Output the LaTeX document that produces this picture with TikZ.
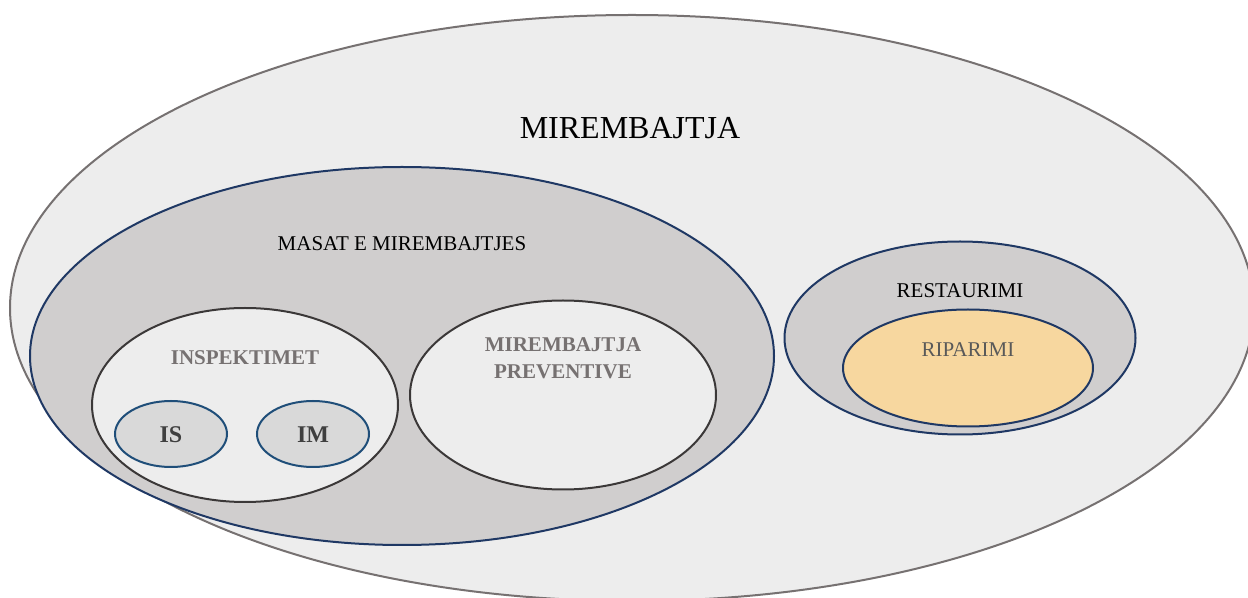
\documentclass[tikz,border=0pt]{standalone}
\usepackage{fontspec}
\setmainfont{Liberation Serif}
\usetikzlibrary{shapes.geometric}

\definecolor{outerfill}{HTML}{EDEDED}
\definecolor{outerline}{HTML}{767171}
\definecolor{midfill}{HTML}{D0CECE}
\definecolor{navy}{HTML}{1F3864}
\definecolor{steel}{HTML}{1F4E79}
\definecolor{darkline}{HTML}{3B3838}
\definecolor{lightfill}{HTML}{EDEDED}
\definecolor{smallfill}{HTML}{D9D9D9}
\definecolor{goldfill}{HTML}{F7D79F}
\definecolor{greytext}{HTML}{767171}
\definecolor{darktext}{HTML}{404040}
\definecolor{midtext}{HTML}{595959}

% one drawing unit = 0.5pt; ellipse sizes are given in the same units
\tikzset{
  blob/.style 2 args={ellipse, inner sep=0pt, line width=1pt,
    minimum width=#1*0.5pt, minimum height=#2*0.5pt},
  base/.style={font=\fontsize{10.5}{12.5}\selectfont, align=center, inner sep=0pt},
  boldgrey/.style={base, font=\fontsize{10.5}{13.5}\selectfont\bfseries, text=greytext},
  smalllabel/.style={base, font=\fontsize{12}{14}\selectfont\bfseries, text=darktext},
}

\begin{document}
\begin{tikzpicture}[x=0.5pt, y=-0.5pt]
  \useasboundingbox (0,0) rectangle (1248,598);
  \clip (0,0) rectangle (1248,598);

  % outer domain
  \node[blob={1244}{586}, draw=outerline, fill=outerfill] (mirembajtja) at (632,308) {};
  \node[base, font=\fontsize{16}{19}\selectfont] (titletext) at (630,128) {MIREMBAJTJA};

  % maintenance measures
  \node[blob={744}{378}, draw=navy, fill=midfill] (masat) at (402,356) {};
  \node[base] (masattext) at (402,244) {MASAT E MIREMBAJTJES};

  \node[blob={306}{194}, draw=darkline, fill=lightfill] (insp) at (245,405) {};
  \node[boldgrey] (insptext) at (245,358) {INSPEKTIMET};

  \node[blob={112}{66}, draw=steel, fill=smallfill] (is) at (171,434) {};
  \node[smalllabel] (istext) at (171,435) {IS};
  \node[blob={112}{66}, draw=steel, fill=smallfill] (im) at (313,434) {};
  \node[smalllabel] (imtext) at (313,435) {IM};

  \node[blob={306}{189}, draw=darkline, fill=lightfill] (prev) at (563,395) {};
  \node[boldgrey] (prevtext) at (563,358) {MIREMBAJTJA\\PREVENTIVE};

  % restoration
  \node[blob={351}{193}, draw=navy, fill=midfill] (rest) at (960,338) {};
  \node[base] (resttext) at (960,291) {RESTAURIMI};
  \node[blob={250}{117}, draw=navy, fill=goldfill] (rip) at (968,368) {};
  \node[base, text=midtext] (riptext) at (968,350) {RIPARIMI};
\end{tikzpicture}
\end{document}
